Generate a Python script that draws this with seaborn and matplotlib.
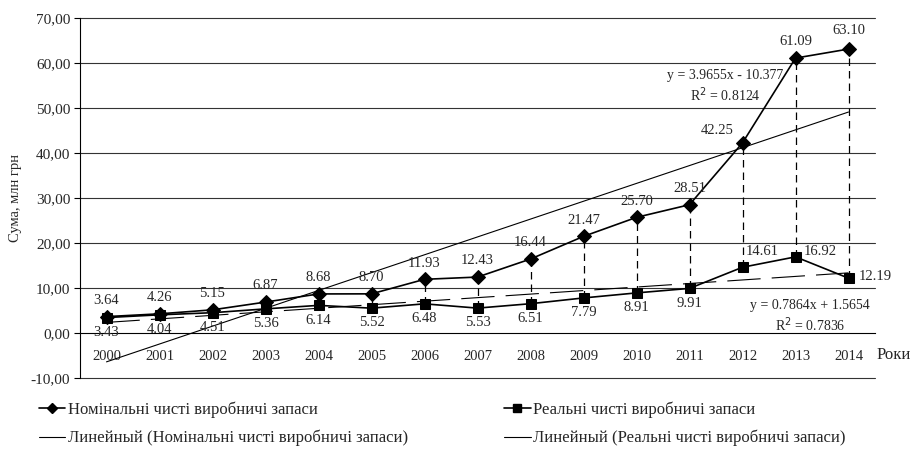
import numpy as np
import pandas as pd
import seaborn as sns
import matplotlib.pyplot as plt
from matplotlib.lines import Line2D

years = [str(y) for y in range(2000, 2015)]
nominal = [3.64, 4.26, 5.15, 6.87, 8.68, 8.70, 11.93, 12.43, 16.44, 21.47, 25.70, 28.51, 42.25, 61.09, 63.10]
real = [3.43, 4.04, 4.51, 5.36, 6.14, 5.52, 6.48, 5.53, 6.51, 7.79, 8.91, 9.91, 14.61, 16.92, 12.19]
trend_nom = (3.9655, -10.377)
trend_real = (0.7864, 1.5654)

name_nom = "Номінальні чисті виробничі запаси"
name_real = "Реальні чисті виробничі запаси"

sns.set_style("white")
plt.rcParams['font.family'] = ['Liberation Serif', 'DejaVu Serif']

x = np.arange(1, len(years) + 1)
df = pd.DataFrame({"x": np.concatenate([x, x]),
                   "val": nominal + real,
                   "series": [name_nom] * len(x) + [name_real] * len(x)})

fig = plt.figure(figsize=(9.14, 4.70), dpi=100)
ax = fig.add_axes([80 / 914, 1 - 378 / 470, 795 / 914, 360 / 470])

# grid lines (the one at 0 is the x axis itself)
for g in range(-10, 80, 10):
    if g != 0:
        ax.axhline(g, color="#333333", lw=0.8, zorder=0, clip_on=False)

# high-low lines
ax.vlines(x, real, nominal, colors="black", linestyles=(0, (6, 4)), lw=0.9, zorder=1)

# trend lines
ax.plot(x, trend_nom[0] * x + trend_nom[1], color="black", lw=0.8, zorder=2)
ax.plot(x, trend_real[0] * x + trend_real[1], color="black", lw=0.8,
        linestyle=(0, (30, 10)), zorder=2)

sns.lineplot(data=df, x="x", y="val", hue="series", style="series",
             markers={name_nom: "D", name_real: "s"}, dashes=False,
             palette={name_nom: "black", name_real: "black"},
             markersize=7, markeredgecolor="black", lw=1.2, legend=False,
             ax=ax, zorder=3)

ax.set_xlim(0.5, 15.5)
ax.set_ylim(-10, 70)
ax.set_yticks(range(-10, 80, 10))
ax.set_yticklabels([f"{v},00" for v in range(-10, 80, 10)], fontsize=11)
ax.spines['bottom'].set_position(('data', 0))
ax.spines['top'].set_visible(False)
ax.spines['right'].set_visible(False)
ax.spines['left'].set_color("black")
ax.spines['bottom'].set_color("black")
ax.set_xticks(x)
ax.set_xticklabels(years, fontsize=10.5)
ax.tick_params(axis='x', length=0, pad=12)
ax.tick_params(axis='y', length=4, direction='out', color="black", left=True, pad=3)
ax.set_xlabel("")
ax.set_ylabel("Сума, млн грн", fontsize=10.5, labelpad=6)
ax.text(15.53, -4.9, "Роки", fontsize=12, va="center", ha="left")

# data labels
fs = 10.5
for i in range(len(x)):
    if i == 12:
        off = (-18, 4)
    elif i == 14:
        off = (0, 9)
    else:
        off = (0, 7)
    ax.annotate(f"{nominal[i]:.2f}", (x[i], nominal[i]), xytext=off,
                textcoords="offset points", ha="center", va="bottom", fontsize=fs)
for i in range(len(x)):
    if i == 12:
        ax.annotate(f"{real[i]:.2f}", (x[i], real[i]), xytext=(2, 7),
                    textcoords="offset points", ha="left", va="bottom", fontsize=fs)
    elif i == 13:
        ax.annotate(f"{real[i]:.2f}", (x[i], real[i]), xytext=(6, 4),
                    textcoords="offset points", ha="left", va="center", fontsize=fs)
    elif i == 14:
        ax.annotate(f"{real[i]:.2f}", (x[i], real[i]), xytext=(7, 1),
                    textcoords="offset points", ha="left", va="center", fontsize=fs)
    else:
        ax.annotate(f"{real[i]:.2f}", (x[i], real[i]), xytext=(0, -6),
                    textcoords="offset points", ha="center", va="top", fontsize=fs)

ax.text(12.68, 57.3, f"y = {trend_nom[0]}x - {abs(trend_nom[1])}", fontsize=10,
        ha="center", va="center")
ax.text(12.68, 52.9, "R$^2$ = 0.8124", fontsize=10, ha="center", va="center")
ax.text(14.27, 6.2, f"y = {trend_real[0]}x + {trend_real[1]}", fontsize=10,
        ha="center", va="center")
ax.text(14.27, 1.8, "R$^2$ = 0.7836", fontsize=10, ha="center", va="center")

handles = [
    Line2D([], [], color="black", marker="D", markersize=5, lw=1.2),
    Line2D([], [], color="black", lw=0.8),
    Line2D([], [], color="black", marker="s", markersize=6, lw=1.2),
    Line2D([], [], color="black", lw=0.8),
]
labels = [name_nom, "Линейный (" + name_nom + ")", name_real, "Линейный (" + name_real + ")"]
fig.legend(handles, labels, ncol=2, loc="upper left", bbox_to_anchor=(0.026, 0.177),
           frameon=False, fontsize=12, handlelength=1.6, handletextpad=0.15,
           columnspacing=5.75, labelspacing=0.7)

fig.savefig("out.png", dpi=100)
